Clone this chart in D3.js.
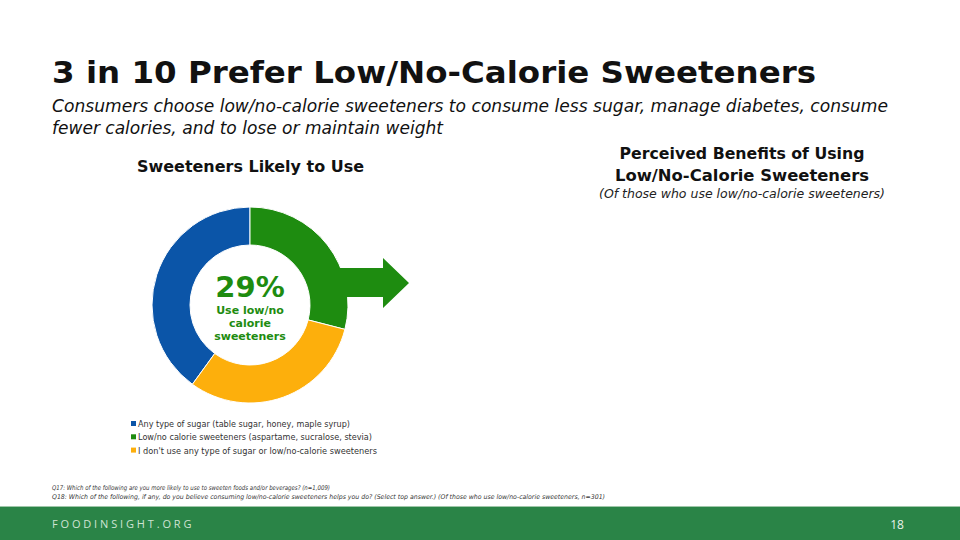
<!DOCTYPE html>
<html><head><meta charset="utf-8">
<script src="https://cdn.jsdelivr.net/npm/d3@7"></script>
<style>body{margin:0;background:#fff}svg{display:block}</style>
</head><body>
<svg id="c" width="960" height="540"></svg>
<script>
const categories = ["Any type of sugar (table sugar, honey, maple syrup)",
  "Low/no calorie sweeteners (aspartame, sucralose, stevia)",
  "I don't use any type of sugar or low/no-calorie sweeteners"];
const values = [40, 29, 31];
const colors = ["#0b55a8", "#1e8c10", "#fdaf0c"];
const highlight = "29%";

const svg = d3.select("#c");
const F = "DejaVu Sans, Verdana, sans-serif";

// Title & subtitle
svg.append("text").attr("x",52).attr("y",83).attr("font-family",F).attr("font-weight","bold")
  .attr("font-size",31).attr("fill","#111").attr("textLength",764).attr("lengthAdjust","spacingAndGlyphs")
  .text("3 in 10 Prefer Low/No-Calorie Sweeteners");
const sub = ["Consumers choose low/no-calorie sweeteners to consume less sugar, manage diabetes, consume",
             "fewer calories, and to lose or maintain weight"];
const subW = [836, 391];
sub.forEach((s,i)=>svg.append("text").attr("x",52).attr("y",112+i*22).attr("font-family",F)
  .attr("font-style","italic").attr("font-size",17).attr("fill","#111")
  .attr("textLength",subW[i]).attr("lengthAdjust","spacingAndGlyphs").text(s));

svg.append("text").attr("x",137).attr("y",172).attr("font-family",F).attr("font-weight","bold")
  .attr("font-size",16).attr("fill","#111").attr("textLength",227).attr("lengthAdjust","spacingAndGlyphs")
  .text("Sweeteners Likely to Use");

svg.append("text").attr("x",742).attr("y",159).attr("text-anchor","middle").attr("font-family",F)
  .attr("font-weight","bold").attr("font-size",16).attr("fill","#111")
  .attr("textLength",245).attr("lengthAdjust","spacingAndGlyphs").text("Perceived Benefits of Using");
svg.append("text").attr("x",742).attr("y",181).attr("text-anchor","middle").attr("font-family",F)
  .attr("font-weight","bold").attr("font-size",16).attr("fill","#111")
  .attr("textLength",254).attr("lengthAdjust","spacingAndGlyphs").text("Low/No-Calorie Sweeteners");
svg.append("text").attr("x",742).attr("y",198).attr("text-anchor","middle").attr("font-family",F)
  .attr("font-style","italic").attr("font-size",12.5).attr("fill","#222")
  .attr("textLength",286).attr("lengthAdjust","spacingAndGlyphs").text("(Of those who use low/no-calorie sweeteners)");

// Donut
const cx = 250, cy = 305, R = 98, r = 60;
const g = svg.append("g").attr("transform",`translate(${cx},${cy})`);
const pie = d3.pie().sort(null).value(d=>d)
  .startAngle(-2*Math.PI*values[0]/100).endAngle(2*Math.PI - 2*Math.PI*values[0]/100);
const arc = d3.arc().innerRadius(r).outerRadius(R);
g.selectAll("path.s").data(pie(values)).join("path").attr("class","s")
  .attr("d",arc).attr("fill",(d,i)=>colors[i]).attr("stroke","#fff").attr("stroke-width",1);

// Arrow growing out of the green ring
g.append("path").attr("fill",colors[1])
  .attr("d",`M78,-37 L133,-37 L133,-47 L159,-22 L133,3 L133,-8 L78,-8 Z`);

g.append("text").attr("y",-8).attr("text-anchor","middle").attr("font-family",F).attr("font-weight","bold")
  .attr("font-size",29).attr("fill",colors[1]).text(highlight);
["Use low/no","calorie","sweeteners"].forEach((t,i)=>g.append("text").attr("y",9+i*13)
  .attr("text-anchor","middle").attr("font-family",F).attr("font-weight","bold")
  .attr("font-size",11).attr("fill",colors[1]).text(t));

// Legend
const legW = [212, 234, 239];
categories.forEach((c,i)=>{
  const y = 427 + i*13.3;
  svg.append("rect").attr("x",131).attr("y",y-6).attr("width",5).attr("height",5).attr("fill",colors[i]);
  svg.append("text").attr("x",138).attr("y",y).attr("font-family",F).attr("font-size",9)
    .attr("fill","#333").attr("textLength",legW[i]).attr("lengthAdjust","spacingAndGlyphs").text(c);
});

// Footnotes
const notes = ["Q17: Which of the following are you more likely to use to sweeten foods and/or beverages? (n=1,009)",
 "Q18: Which of the following, if any, do you believe consuming low/no-calorie sweeteners helps you do? (Select top answer.) (Of those who use low/no-calorie sweeteners, n=301)"];
const noteW = [278, 553];
notes.forEach((n,i)=>svg.append("text").attr("x",52).attr("y",490+i*9).attr("font-family",F)
  .attr("font-style","italic").attr("font-size",6.5).attr("fill","#333")
  .attr("textLength",noteW[i]).attr("lengthAdjust","spacingAndGlyphs").text(n));

// Footer band
svg.append("rect").attr("x",0).attr("y",507).attr("width",960).attr("height",33).attr("fill","#2a8447");
svg.append("rect").attr("x",0).attr("y",506).attr("width",960).attr("height",1).attr("fill","#9fc7a9");
svg.append("text").attr("x",52).attr("y",528).attr("font-family","Open Sans, sans-serif").attr("font-size",11)
  .attr("letter-spacing",2.6).attr("fill","#cfe3d4").attr("textLength",142).text("FOODINSIGHT.ORG");
svg.append("text").attr("x",897).attr("y",529).attr("text-anchor","middle").attr("font-family","Open Sans, sans-serif")
  .attr("font-size",12).attr("fill","#e8f2ea").text("18");
</script>
</body></html>
